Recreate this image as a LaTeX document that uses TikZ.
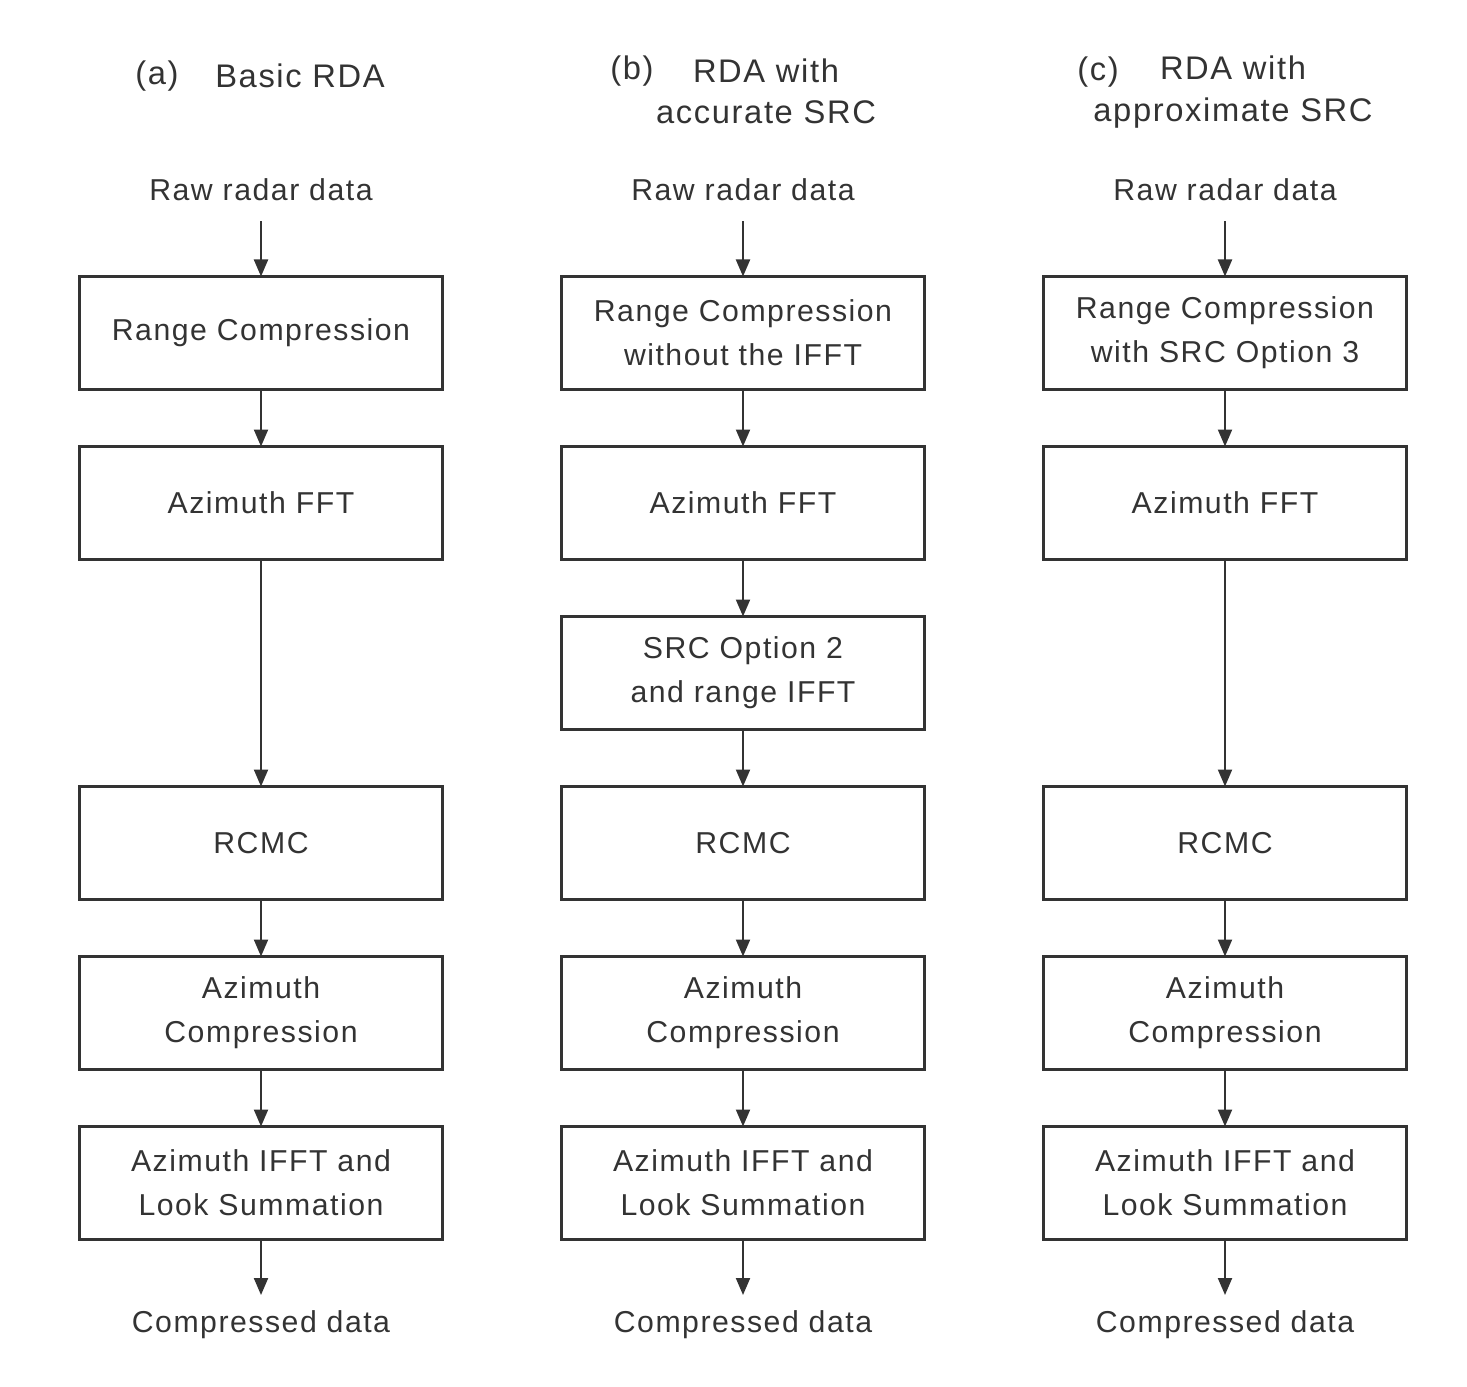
\documentclass[tikz,border=0pt]{standalone}
\usepackage{fontspec}
\setmainfont[LetterSpace=5]{Liberation Sans}
\usetikzlibrary{positioning,arrows.meta}
\definecolor{inkgray}{HTML}{333333}

\begin{document}
\begin{tikzpicture}[procbox/.style={rectangle, draw=inkgray, line width=0.6pt, minimum width=36.3mm, minimum height=11.3mm, align=center, text=inkgray, font=\fontsize{8.6}{12.5}\selectfont, inner sep=0pt, outer sep=0pt},
    endnode/.style={text=inkgray, font=\fontsize{8.6}{12.5}\selectfont, inner sep=1.5mm, outer sep=0pt, text height=6.3pt, text depth=1.8pt},
    headnode/.style={text=inkgray, align=center, font=\fontsize{9.3}{11.7}\selectfont, inner sep=0pt},
    flow/.style={draw=inkgray, line width=0.6pt, -{Triangle[length=1.7mm,width=1.4mm]}}]

        \useasboundingbox (0,0) rectangle (14.67,-13.86);

        % column (a)
        \node[headnode] (atag) at (1.57,-0.76) {(a)};
        \node[headnode] (ahead) at (3.00,-0.76) {Basic RDA};
        \node[procbox] (a1) at (2.61,-3.33) {Range Compression};
        \node[endnode] (ain) [above=5.5mm of a1] {Raw radar data};
        \node[procbox] (a2) [below=5.7mm of a1] {Azimuth FFT};
        \node[procbox] (a3) [below=22.7mm of a2] {RCMC};
        \node[procbox] (a4) [below=5.7mm of a3] {Azimuth\\Compression};
        \node[procbox] (a5) [below=5.7mm of a4] {Azimuth IFFT and\\Look Summation};
        \node[endnode] (aout) [below=5.55mm of a5] {Compressed data};

        % column (b)
        \node[headnode] (btag) at (6.32,-0.71) {(b)};
        \node[headnode] (bhead) at (7.66,-0.91) {RDA with\\accurate SRC};
        \node[procbox] (b1) [right=11.9mm of a1] {Range Compression\\without the IFFT};
        \node[endnode] (bin) [above=5.5mm of b1] {Raw radar data};
        \node[procbox] (b2) [below=5.7mm of b1] {Azimuth FFT};
        \node[procbox] (b3) [below=5.7mm of b2] {SRC Option 2\\and range IFFT};
        \node[procbox] (b4) [below=5.7mm of b3] {RCMC};
        \node[procbox] (b5) [below=5.7mm of b4] {Azimuth\\Compression};
        \node[procbox] (b6) [below=5.7mm of b5] {Azimuth IFFT and\\Look Summation};
        \node[endnode] (bout) [below=5.55mm of b6] {Compressed data};

        % column (c)
        \node[headnode] (ctag) at (10.98,-0.72) {(c)};
        \node[headnode] (chead) at (12.33,-0.92) {RDA with\\approximate SRC};
        \node[procbox] (c1) [right=11.9mm of b1] {Range Compression\\with SRC Option 3};
        \node[endnode] (cin) [above=5.5mm of c1] {Raw radar data};
        \node[procbox] (c2) [below=5.7mm of c1] {Azimuth FFT};
        \node[procbox] (c3) [below=22.7mm of c2] {RCMC};
        \node[procbox] (c4) [below=5.7mm of c3] {Azimuth\\Compression};
        \node[procbox] (c5) [below=5.7mm of c4] {Azimuth IFFT and\\Look Summation};
        \node[endnode] (cout) [below=5.55mm of c5] {Compressed data};

        \foreach \u/\v in {ain/a1, a1/a2, a2/a3, a3/a4, a4/a5, a5/aout,
                bin/b1, b1/b2, b2/b3, b3/b4, b4/b5, b5/b6, b6/bout,
                cin/c1, c1/c2, c2/c3, c3/c4, c4/c5, c5/cout}
            \draw[flow] (\u) -- (\v);

\end{tikzpicture}
\end{document}
